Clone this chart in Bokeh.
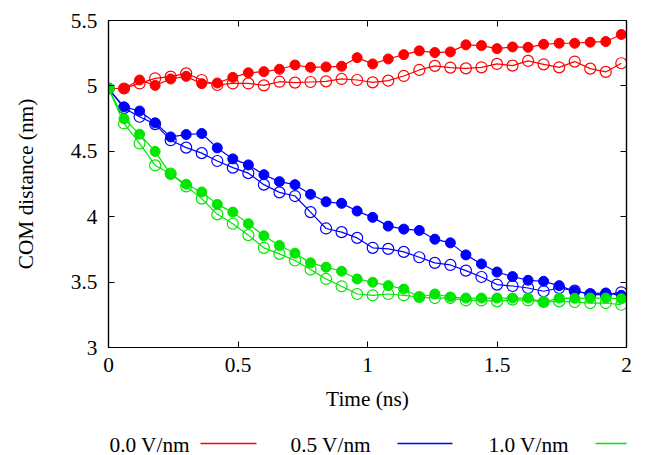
from bokeh.plotting import figure
from bokeh.models import (Range1d, LinearAxis, FixedTicker, NumeralTickFormatter, ColumnDataSource,
                          CustomJSTickFormatter)
from bokeh.layouts import column
from bokeh.embed import file_html
from bokeh.resources import INLINE
from bokeh.core.properties import value

# ---------------- data ----------------
time_ns = [0.00, 0.06, 0.12, 0.18, 0.24, 0.30, 0.36, 0.42, 0.48, 0.54,
           0.60, 0.66, 0.72, 0.78, 0.84, 0.90, 0.96, 1.02, 1.08, 1.14,
           1.20, 1.26, 1.32, 1.38, 1.44, 1.50, 1.56, 1.62, 1.68, 1.74,
           1.80, 1.86, 1.92, 1.98]

red_filled = [4.98, 4.98, 5.045, 5.004, 5.053, 5.073, 5.017, 5.022, 5.065, 5.10,
              5.109, 5.127, 5.16, 5.142, 5.145, 5.15, 5.216, 5.168, 5.206, 5.239,
              5.268, 5.255, 5.26, 5.314, 5.308, 5.285, 5.298, 5.295, 5.318, 5.326,
              5.326, 5.334, 5.339, 5.393]
red_open = [4.98, 4.98, 5.019, 5.058, 5.071, 5.096, 5.045, 5.007, 5.019, 5.019,
            5.004, 5.032, 5.025, 5.03, 5.035, 5.053, 5.045, 5.027, 5.04, 5.076,
            5.122, 5.153, 5.14, 5.134, 5.142, 5.168, 5.155, 5.191, 5.165, 5.142,
            5.186, 5.132, 5.107, 5.173]
blue_filled = [4.98, 4.84, 4.808, 4.718, 4.61, 4.628, 4.636, 4.526, 4.442, 4.396,
               4.321, 4.268, 4.245, 4.171, 4.114, 4.102, 4.043, 3.995, 3.928, 3.905,
               3.895, 3.828, 3.80, 3.708, 3.639, 3.577, 3.542, 3.514, 3.506, 3.473,
               3.43, 3.412, 3.417, 3.399]
blue_open = [4.98, 4.83, 4.764, 4.708, 4.585, 4.528, 4.486, 4.426, 4.375, 4.333,
             4.245, 4.186, 4.158, 4.035, 3.91, 3.882, 3.838, 3.762, 3.754, 3.731,
             3.69, 3.647, 3.631, 3.588, 3.539, 3.481, 3.47, 3.455, 3.43, 3.455,
             3.435, 3.404, 3.404, 3.422]
green_filled = [4.98, 4.749, 4.631, 4.499, 4.324, 4.248, 4.189, 4.094, 4.035, 3.946,
                3.854, 3.78, 3.721, 3.647, 3.614, 3.583, 3.524, 3.499, 3.473, 3.447,
                3.386, 3.409, 3.386, 3.378, 3.378, 3.378, 3.378, 3.378, 3.348, 3.378,
                3.376, 3.378, 3.378, 3.373]
green_open = [4.98, 4.713, 4.56, 4.392, 4.329, 4.232, 4.138, 4.018, 3.946, 3.859,
              3.762, 3.716, 3.665, 3.596, 3.524, 3.468, 3.409, 3.399, 3.409, 3.399,
              3.386, 3.378, 3.378, 3.36, 3.36, 3.353, 3.366, 3.36, 3.348, 3.353,
              3.348, 3.34, 3.34, 3.327]

x_ticks = [0, 0.5, 1, 1.5, 2]
y_ticks = [3, 3.5, 4, 4.5, 5, 5.5]
legend_labels = ["0.0 V/nm", "0.5 V/nm", "1.0 V/nm"]

RED, BLUE, GREEN = "#ff0000", "#0000ff", "#00e600"
FONT = "Liberation Serif"
FS = "16pt"

# ---------------- main plot ----------------
p = figure(frame_width=518, frame_height=327, output_backend="svg", toolbar_location=None,
           x_range=Range1d(0, 2), y_range=Range1d(3, 5.5),
           min_border_left=108, min_border_right=22, min_border_top=20, min_border_bottom=78)
p.xgrid.visible = False
p.ygrid.visible = False
p.outline_line_color = "black"
p.outline_line_width = 1.2
p.background_fill_color = "white"
p.border_fill_color = "white"

def style_axis(ax, ticks, show_labels=True):
    ax.ticker = FixedTicker(ticks=ticks)
    ax.major_tick_in = 6
    ax.major_tick_out = 0
    ax.minor_tick_line_color = None
    ax.axis_line_color = "black"
    ax.axis_line_width = 1.2
    ax.major_tick_line_color = "black"
    ax.major_label_text_font = FONT
    ax.major_label_text_color = "black"
    ax.major_label_text_font_size = FS
    ax.axis_label_text_font = FONT
    ax.axis_label_text_font_size = FS
    ax.axis_label_text_font_style = "normal"
    ax.axis_label_text_color = "black"
    if show_labels:
        ax.formatter = NumeralTickFormatter(format="0.[0]")
    else:
        ax.formatter = CustomJSTickFormatter(code="return '';")
        ax.major_label_standoff = 0

style_axis(p.xaxis[0], x_ticks)
style_axis(p.yaxis[0], y_ticks)
p.xaxis[0].axis_label = "Time (ns)"
p.yaxis[0].axis_label = "COM distance (nm)"
p.xaxis[0].major_label_standoff = 10
p.xaxis[0].axis_label_standoff = 12
p.yaxis[0].major_label_standoff = 11
p.yaxis[0].axis_label_standoff = 30

top_ax = LinearAxis()
right_ax = LinearAxis()
style_axis(top_ax, x_ticks, show_labels=False)
style_axis(right_ax, y_ticks, show_labels=False)
p.add_layout(top_ax, "above")
p.add_layout(right_ax, "right")

src = ColumnDataSource(dict(t=time_ns, rf=red_filled, ro=red_open, bf=blue_filled,
                            bo=blue_open, gf=green_filled, go=green_open))

for col_f, col_o, color in [("rf", "ro", RED), ("bf", "bo", BLUE), ("gf", "go", GREEN)]:
    p.line("t", col_f, source=src, line_color=color, line_width=1.2)
    p.scatter("t", col_f, source=src, size=10, fill_color=color, line_color=color)
    p.line("t", col_o, source=src, line_color=color, line_width=1.2)
    p.scatter("t", col_o, source=src, size=11, fill_color=None, line_color=color, line_width=1.2)

# ---------------- legend strip (text, then line sample) ----------------
# same borders as the main plot so the two frames line up; x is in page pixels
lg = figure(frame_width=518, frame_height=30, output_backend="svg", toolbar_location=None,
            x_range=Range1d(108, 626), y_range=Range1d(0, 30),
            min_border_left=108, min_border_right=22, min_border_top=0, min_border_bottom=0)
lg.axis.visible = False
lg.xgrid.visible = False
lg.ygrid.visible = False
lg.outline_line_color = None
lg.background_fill_color = "white"
lg.border_fill_color = "white"

text_x = [109, 290, 488]
line_x0 = [200, 397, 595]
line_x1 = [256, 452, 651]
lg.text(x=text_x, y=[11, 11, 11], text=legend_labels, text_font=value(FONT),
        text_font_size=FS, text_align="left", text_baseline="middle", text_color="black")
lg.segment(x0=line_x0, y0=[12, 12, 12], x1=line_x1, y1=[12, 12, 12],
           line_color=[RED, BLUE, GREEN], line_width=1.5)

layout = column(p, lg, spacing=0)
open("out.html", "w").write(file_html(layout, INLINE))
